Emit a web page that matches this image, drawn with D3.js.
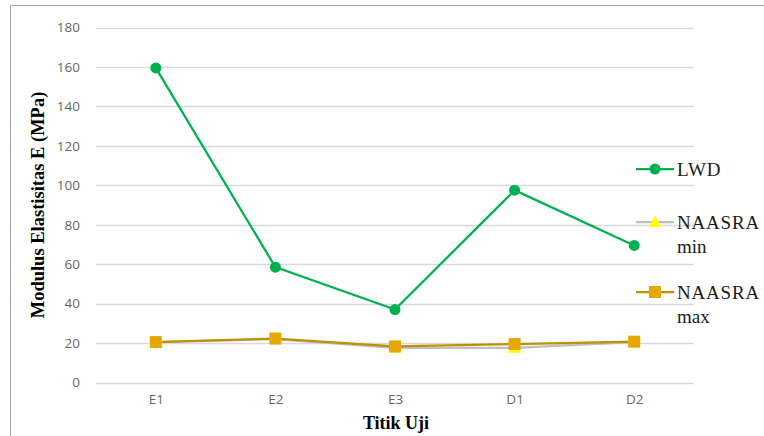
<!DOCTYPE html>
<html>
<head>
<meta charset="utf-8">
<script src="https://cdn.jsdelivr.net/npm/d3@7"></script>
<style>
  body { margin: 0; background: #fff; }
  svg { display: block; }
</style>
</head>
<body>
<div id="chart"></div>
<script>
const categories = ['E1', 'E2', 'E3', 'D1', 'D2'];
const lwd        = [159.5, 58.5, 37, 97.5, 69.5];
const naasraMin  = [20.5, 22, 17.5, 17.5, 20.5];
const naasraMax  = [20.5, 22.3, 18.3, 19.5, 20.7];
const yTicks     = [0, 20, 40, 60, 80, 100, 120, 140, 160, 180];

const width = 764, height = 436;
const pad = {l: 96, r: 70, t: 27.5, b: 53.5};

const svg = d3.select('#chart').append('svg')
  .attr('width', width).attr('height', height);

// chart border (runs off right/bottom)
svg.append('path')
  .attr('d', `M10.5,${height + 2}V5.5H${width + 2}`)
  .attr('fill', 'none').attr('stroke', '#a6a6a6');

const x = d3.scalePoint()
  .domain(categories)
  .range([pad.l, width - pad.r])
  .padding(0.5);
const y = d3.scaleLinear()
  .domain([0, 180])
  .range([height - pad.b, pad.t]);

// grid
svg.append('g').selectAll('line').data(yTicks).join('line')
  .attr('x1', pad.l).attr('x2', width - pad.r)
  .attr('y1', d => Math.round(y(d)) + 0.5).attr('y2', d => Math.round(y(d)) + 0.5)
  .attr('stroke', '#d9d9d9').attr('stroke-width', 1.5);

// axes
const axisY = svg.append('g')
  .attr('transform', `translate(${pad.l}, 0)`)
  .call(d3.axisLeft(y).tickValues(yTicks).tickSize(0).tickPadding(16));
axisY.select('.domain').remove();
const axisX = svg.append('g')
  .attr('transform', `translate(0, ${height - pad.b})`)
  .call(d3.axisBottom(x).tickSize(0).tickPadding(12));
axisX.select('.domain').remove();
svg.selectAll('.tick text')
  .attr('fill', '#666')
  .style('font-family', '"Open Sans", "Noto Sans", sans-serif')
  .style('font-size', '13.5px');

// axis titles
svg.append('text')
  .attr('transform', `translate(44, 205) rotate(-90)`)
  .attr('text-anchor', 'middle')
  .style('font-family', '"Liberation Serif", "DejaVu Serif", serif')
  .style('font-weight', 'bold').style('font-size', '18.5px')
  .text('Modulus Elastisitas  E (MPa)');
svg.append('text')
  .attr('x', 396).attr('y', 429)
  .attr('text-anchor', 'middle')
  .style('font-family', '"Liberation Serif", "DejaVu Serif", serif')
  .style('font-weight', 'bold').style('font-size', '18px')
  .text('Titik  Uji');

const line = d3.line().x((d, i) => x(categories[i])).y(d => y(d));

const series = [
  {name: ['LWD'], values: lwd, stroke: '#00b050', fill: '#00b050', shape: 'circle', w: 2.25},
  {name: ['NAASRA', 'min'], values: naasraMin, stroke: '#bfbfbf', fill: '#ffff00', shape: 'triangle', w: 2.25},
  {name: ['NAASRA', 'max'], values: naasraMax, stroke: '#bf9000', fill: '#e6a800', shape: 'square', w: 2.25}
];

function marker(g, s, cx, cy) {
  if (s.shape === 'circle') {
    g.append('circle').attr('cx', cx).attr('cy', cy).attr('r', 5.5).attr('fill', s.fill);
  } else if (s.shape === 'square') {
    g.append('rect').attr('x', cx - 6).attr('y', cy - 6).attr('width', 12).attr('height', 12).attr('fill', s.fill);
  } else {
    g.append('path')
      .attr('d', d3.symbol(d3.symbolTriangle, 70)())
      .attr('transform', `translate(${cx}, ${cy + 1})`)
      .attr('fill', s.fill);
  }
}

series.forEach(s => {
  const g = svg.append('g');
  g.append('path').datum(s.values)
    .attr('d', line).attr('fill', 'none')
    .attr('stroke', s.stroke).attr('stroke-width', s.w);
  s.values.forEach((v, i) => marker(g, s, x(categories[i]), y(v)));
});

// legend
const legY = [169, 222, 292];
series.forEach((s, i) => {
  const g = svg.append('g');
  g.append('line').attr('x1', 636).attr('x2', 674)
    .attr('y1', legY[i]).attr('y2', legY[i])
    .attr('stroke', s.stroke).attr('stroke-width', s.w);
  marker(g, s, 655, legY[i]);
  const t = g.append('text')
    .attr('x', 677).attr('y', legY[i] + 6.5)
    .style('font-family', '"Liberation Serif", "DejaVu Serif", serif')
    .style('font-size', '19px').attr('fill', '#1a1a1a');
  s.name.forEach((n, k) => t.append('tspan')
    .attr('x', 677).attr('dy', k === 0 ? 0 : 24)
    .style('letter-spacing', k === 0 ? '0.8px' : '0px')
    .text(n));
});
</script>
</body>
</html>
